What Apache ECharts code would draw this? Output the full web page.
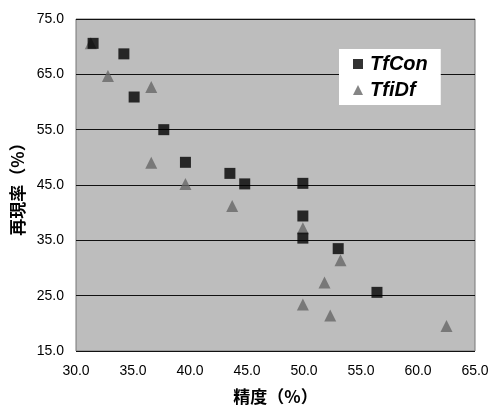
<!DOCTYPE html>
<html><head><meta charset="utf-8">
<script src="https://cdn.jsdelivr.net/npm/echarts@6/dist/echarts.min.js"></script>
<style>html,body{margin:0;padding:0;background:#fff}#c{width:490px;height:407px}</style>
</head><body><div id="c"></div>
<script>
const xTicks = [30, 35, 40, 45, 50, 55, 60, 65];
const yTicks = [15, 25, 35, 45, 55, 65, 75];
const tfconX = [31.5, 34.2, 35.1, 37.7, 39.6, 43.5, 44.8, 49.9, 49.9, 49.9, 53.0, 56.4];
const tfconY = [70.6, 68.7, 60.9, 55.0, 49.1, 47.1, 45.2, 45.3, 39.4, 35.4, 33.5, 25.6];
const tfidfX = [31.3, 32.8, 36.6, 36.6, 39.6, 43.7, 49.9, 53.2, 51.8, 49.9, 52.3, 62.5];
const tfidfY = [70.6, 64.7, 62.7, 49.0, 45.2, 41.2, 37.2, 31.4, 27.4, 23.4, 21.4, 19.5];
const seriesNames = ['TfCon', 'TfiDf'];
const xName = '精度（%）';
const yName = '再現率（%）';

const zip = (a, b) => a.map((v, i) => [v, b[i]]);
const chart = echarts.init(document.getElementById('c'));
const lblFont = {fontFamily: 'Liberation Sans, Arial, sans-serif', fontSize: 14, color: '#000'};
chart.setOption({
  animation: false,
  backgroundColor: '#fff',
  grid: {left: 76, right: 15, top: 19, bottom: 56, show: true, backgroundColor: '#bdbdbd', borderColor: '#777', borderWidth: 1,
         containLabel: false, outerBoundsMode: 'none'},
  xAxis: {
    type: 'value', min: xTicks[0], max: xTicks[xTicks.length - 1], interval: 5,
    axisLine: {show: false}, axisTick: {show: false}, splitLine: {show: false},
    axisLabel: Object.assign({formatter: v => v.toFixed(1), margin: 13}, lblFont),
    name: xName, nameLocation: 'middle', nameGap: 37,
    nameTextStyle: {fontFamily: 'Noto Sans CJK JP', fontWeight: 'bold', fontSize: 17, color: '#000'}
  },
  yAxis: {
    type: 'value', min: yTicks[0], max: yTicks[yTicks.length - 1], interval: 10,
    axisLine: {show: false}, axisTick: {show: false},
    splitLine: {show: true, lineStyle: {color: '#111', width: 1}},
    axisLabel: Object.assign({formatter: v => v.toFixed(1), margin: 12}, lblFont),
    name: yName, nameLocation: 'middle', nameGap: 50, nameRotate: 90,
    nameTextStyle: {fontFamily: 'Noto Sans CJK JP', fontWeight: 'bold', fontSize: 17, color: '#000'}
  },
  legend: {
    orient: 'vertical', left: 339, top: 49,
    backgroundColor: '#fff', padding: [5, 13, 5, 14], itemGap: 6,
    itemWidth: 10, itemHeight: 10,
    textStyle: {fontFamily: 'Liberation Sans, Arial, sans-serif', fontSize: 20, fontWeight: 'bold', fontStyle: 'italic', color: '#000', padding: [0, 0, 0, 2]},
    data: [{name: seriesNames[0], icon: 'rect'}, {name: seriesNames[1], icon: 'triangle'}]
  },
  series: [
    {name: seriesNames[1], type: 'scatter', symbol: 'triangle', symbolSize: 12, z: 2,
     itemStyle: {color: '#666'}, data: zip(tfidfX, tfidfY)},
    {name: seriesNames[0], type: 'scatter', symbol: 'rect', symbolSize: 11, z: 3,
     itemStyle: {color: '#000'}, data: zip(tfconX, tfconY)}
  ]
});
</script></body></html>
